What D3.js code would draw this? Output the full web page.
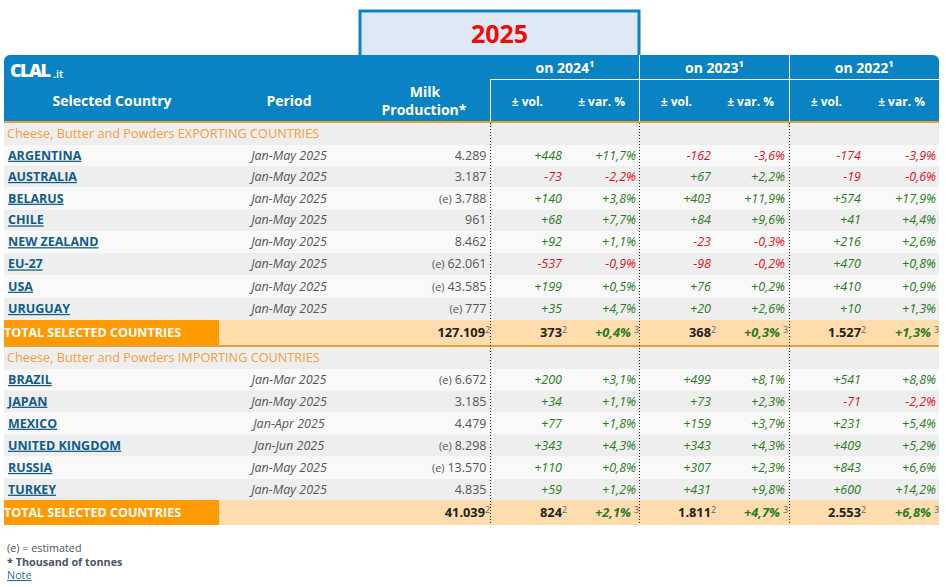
<!DOCTYPE html>
<html>
<head>
<meta charset="utf-8">
<script src="https://d3js.org/d3.v7.min.js"></script>
<style>
    html, body { margin: 0; padding: 0; background: #fff; }
    svg { display: block; }
    text { font-family: "Open Sans", sans-serif; }
</style>
</head>
<body>
<svg></svg>
<script>
var Application = (function(){
    var width = 946;
    var height = 587;
    var blue = "#0a83c4", orange = "#ff9b00", line = "#e8a030", peach = "#fedcae";
    var green = "#2a7a22", red = "#e01020";
    var svg;

    // type: s = section, c = country, t = total
    var rows = [
        {type:"s", h:22, name:"Cheese, Butter and Powders EXPORTING COUNTRIES"},
        {type:"c", h:21, name:"ARGENTINA", period:"Jan-May 2025", prod:"4.289", est:false, v:["+448","+11,7%","-162","-3,6%","-174","-3,9%"]},
        {type:"c", h:21.5, name:"AUSTRALIA", period:"Jan-May 2025", prod:"3.187", est:false, v:["-73","-2,2%","+67","+2,2%","-19","-0,6%"]},
        {type:"c", h:22, name:"BELARUS", period:"Jan-May 2025", prod:"3.788", est:true, v:["+140","+3,8%","+403","+11,9%","+574","+17,9%"]},
        {type:"c", h:21.5, name:"CHILE", period:"Jan-May 2025", prod:"961", est:false, v:["+68","+7,7%","+84","+9,6%","+41","+4,4%"]},
        {type:"c", h:22, name:"NEW ZEALAND", period:"Jan-May 2025", prod:"8.462", est:false, v:["+92","+1,1%","-23","-0,3%","+216","+2,6%"]},
        {type:"c", h:22.5, name:"EU-27", period:"Jan-May 2025", prod:"62.061", est:true, v:["-537","-0,9%","-98","-0,2%","+470","+0,8%"]},
        {type:"c", h:22, name:"USA", period:"Jan-May 2025", prod:"43.585", est:true, v:["+199","+0,5%","+76","+0,2%","+410","+0,9%"]},
        {type:"c", h:22.5, name:"URUGUAY", period:"Jan-May 2025", prod:"777", est:true, v:["+35","+4,7%","+20","+2,6%","+10","+1,3%"]},
        {type:"t", h:27, rule:true, name:"TOTAL SELECTED COUNTRIES", prod:"127.109", v:["373","+0,4%","368","+0,3%","1.527","+1,3%"]},
        {type:"s", h:22, name:"Cheese, Butter and Powders IMPORTING COUNTRIES"},
        {type:"c", h:21.5, name:"BRAZIL", period:"Jan-Mar 2025", prod:"6.672", est:true, v:["+200","+3,1%","+499","+8,1%","+541","+8,8%"]},
        {type:"c", h:22, name:"JAPAN", period:"Jan-May 2025", prod:"3.185", est:false, v:["+34","+1,1%","+73","+2,3%","-71","-2,2%"]},
        {type:"c", h:22, name:"MEXICO", period:"Jan-Apr 2025", prod:"4.479", est:false, v:["+77","+1,8%","+159","+3,7%","+231","+5,4%"]},
        {type:"c", h:22, name:"UNITED KINGDOM", period:"Jan-Jun 2025", prod:"8.298", est:true, v:["+343","+4,3%","+343","+4,3%","+409","+5,2%"]},
        {type:"c", h:22.5, name:"RUSSIA", period:"Jan-May 2025", prod:"13.570", est:true, v:["+110","+0,8%","+307","+2,3%","+843","+6,6%"]},
        {type:"c", h:21, name:"TURKEY", period:"Jan-May 2025", prod:"4.835", est:false, v:["+59","+1,2%","+431","+9,8%","+600","+14,2%"]},
        {type:"t", h:25, name:"TOTAL SELECTED COUNTRIES", prod:"41.039", v:["824","+2,1%","1.811","+4,7%","2.553","+6,8%"]}
    ];

    var valueX = [562, 636, 711, 785, 861, 936];
    var groups = [
        {label:"on 2024", x0:490.5, x1:639.5},
        {label:"on 2023", x0:639.5, x1:789.5},
        {label:"on 2022", x0:789.5, x1:939}
    ];

    function svgInit(){
        svg = d3.select("svg").attr("width", width).attr("height", height);
        var top = 123;
        rows.forEach(function(d){ d.y = top; top += d.h; });
        drawTitle();
        drawHeader();
        drawRows();
        drawDividers(top);
        drawNotes();
    }

    function label(g, x, y, str, size, weight, fill, anchor, style){
        return g.append("text")
            .attr("x", x).attr("y", y)
            .attr("font-size", size)
            .attr("font-weight", weight || 400)
            .attr("font-style", style || "normal")
            .attr("fill", fill)
            .attr("text-anchor", anchor || "start")
            .text(str);
    }

    function drawTitle(){
        svg.append("rect").attr("x", 360).attr("y", 11).attr("width", 279).attr("height", 50)
            .attr("fill", "#dfe9f5").attr("stroke", blue).attr("stroke-width", 3);
        label(svg, 499.5, 43, "2025", 25, 700, "#ee0b0b", "middle");
    }

    function drawHeader(){
        var g = svg.append("g");
        g.append("path")
            .attr("fill", blue)
            .attr("d", "M4 121V61a6 6 0 0 1 6-6H933a6 6 0 0 1 6 6V121Z");
        g.append("rect").attr("x", 4).attr("y", 121).attr("width", 935).attr("height", 2.5).attr("fill", line);

        label(g, 10, 77, "CLAL", 18, 800, "#fff").attr("letter-spacing", -1.6);
        label(g, 53, 78, ".it", 11, 600, "#fff");

        label(g, 112, 106, "Selected Country", 14, 700, "#fff", "middle");
        label(g, 289, 106, "Period", 14, 700, "#fff", "middle");
        label(g, 425, 97, "Milk", 14, 700, "#fff", "middle");
        label(g, 424, 115, "Production*", 14, 700, "#fff", "middle");

        g.selectAll(".grp").data(groups).enter().append("text")
            .attr("x", d => (d.x0 + d.x1) / 2)
            .attr("y", 73)
            .attr("text-anchor", "middle")
            .attr("font-size", 14).attr("font-weight", 700).attr("fill", "#fff")
            .text(d => d.label + "\u00b9");

        g.append("line").attr("x1", 490.5).attr("x2", 939).attr("y1", 79.5).attr("y2", 79.5).attr("stroke", "#fff");
        g.selectAll(".sep").data(groups).enter().append("line")
            .attr("x1", d => d.x0).attr("x2", d => d.x0)
            .attr("y1", (d, i) => i ? 55 : 79.5).attr("y2", 121)
            .attr("stroke", "#fff");

        ["\u00b1 vol.", "\u00b1 var. %", "\u00b1 vol.", "\u00b1 var. %", "\u00b1 vol.", "\u00b1 var. %"].forEach(function(t, i){
            label(g, valueX[i] - (i % 2 ? 11 : 19), 106, t, 12, 700, "#fff", "end");
        });
    }

    function drawRows(){
        var row = svg.selectAll(".row").data(rows).enter().append("g")
            .attr("class", "row")
            .attr("transform", d => "translate(0," + d.y + ")");

        var n = 0;
        row.each(function(d){
            var g = d3.select(this);
            var base = d.h / 2 + 4.2;
            if(d.type == "s"){
                n = 0;
                g.append("rect").attr("x", 4).attr("width", 935).attr("height", d.h).attr("fill", "#eeeeee");
                label(g, 7, 14.8, d.name, 12.7, 400, "#f0a040");
            }
            if(d.type == "c"){
                g.append("rect").attr("x", 4).attr("width", 935).attr("height", d.h)
                    .attr("fill", n++ % 2 ? "#eeeeee" : "#f9f9f9");
                label(g, 8, base, d.name, 12.5, 700, "#0f5c8c").attr("text-decoration", "underline");
                label(g, 289, base, d.period, 12.5, 400, "#555", "middle", "italic");
                var p = label(g, 486.5, base, "", 12.5, 400, "#555", "end");
                if(d.est) p.append("tspan").attr("font-size", 11).text("(e) ");
                p.append("tspan").text(d.prod);
                d.v.forEach(function(t, i){
                    label(g, valueX[i], base, t, 12.5, 400, t[0] == "-" ? red : green, "end", "italic");
                });
            }
            if(d.type == "t"){
                var bandH = d.rule ? d.h - 2 : d.h;
                g.append("rect").attr("x", 4).attr("width", 935).attr("height", bandH).attr("fill", peach);
                g.append("rect").attr("x", 4).attr("width", 215).attr("height", bandH).attr("fill", orange);
                if(d.rule) g.append("rect").attr("x", 4).attr("y", bandH).attr("width", 935).attr("height", 2).attr("fill", line);
                var by = bandH / 2 + 4.5;
                label(g, 4, by, d.name, 12.5, 700, "#fff");
                label(g, 485, by, d.prod, 12.8, 700, "#222", "end");
                label(g, 485, by - 4, "2", 9, 400, "#666");
                d.v.forEach(function(t, i){
                    if(i % 2 == 0){
                        label(g, valueX[i], by, t, 12.8, 700, "#222", "end");
                        label(g, valueX[i], by - 4, "2", 9, 400, "#666");
                    } else {
                        label(g, valueX[i] - 5, by, t, 12.8, 700, green, "end", "italic");
                        label(g, valueX[i] - 2, by - 4, "3", 9, 400, "#666");
                    }
                });
            }
        });
    }

    function drawDividers(bottom){
        svg.selectAll(".div").data(groups).enter().append("line")
            .attr("x1", d => d.x0).attr("x2", d => d.x0)
            .attr("y1", 123).attr("y2", bottom)
            .attr("shape-rendering", "crispEdges")
            .attr("stroke", "#222").attr("stroke-dasharray", "1,2");
    }

    function drawNotes(){
        var g = svg.append("g");
        label(g, 7, 552, "(e) = estimated", 10.8, 400, "#4a5568");
        label(g, 7, 566, "* Thousand of tonnes", 10.8, 700, "#4a5568");
        label(g, 7, 579, "Note", 10.8, 400, "#2a6f97").attr("text-decoration", "underline");
    }

    return {
        init: function(){
            svgInit();
        }
    };
})();

Application.init();
</script>
</body>
</html>
